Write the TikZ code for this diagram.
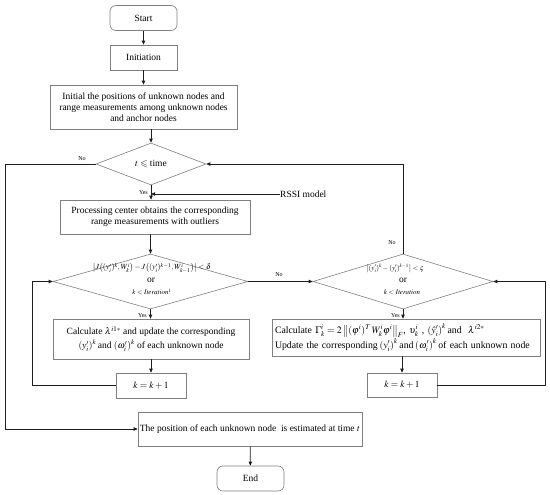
\documentclass[tikz,border=0pt]{standalone}
\usepackage{mathptmx}
\usepackage{amsmath,amssymb}
\usepackage{fontspec}
\setmainfont{Liberation Serif}
\usetikzlibrary{arrows.meta,shapes.geometric,calc}
\definecolor{boxgray}{RGB}{128,128,128}
\definecolor{linec}{RGB}{30,30,30}
\begin{document}
\begin{tikzpicture}[x=1pt,y=-1pt,
  every node/.style={font=\fontsize{9.5}{11}\selectfont},
  box/.style={draw=boxgray, line width=0.6pt, inner sep=0pt, align=center},
  term/.style={box, rounded corners=6pt},
  dia/.style={draw=boxgray, line width=0.6pt, diamond, inner sep=0pt},
  conn/.style={draw=linec, line width=0.8pt, -{Triangle[length=4pt,width=3.4pt]}},
  lab/.style={font=\fontsize{6}{7}\selectfont, inner sep=0pt},
  mtext/.style={align=center, inner sep=0pt}]
\useasboundingbox (0,0) rectangle (550,495);

\node[term, minimum width=67pt, minimum height=25pt] (start) at (143.5,18) {Start};
\node[box, minimum width=67pt, minimum height=25pt] (init) at (143.5,57.5) {Initiation};
\node[box, minimum width=187pt, minimum height=44pt] (initpos) at (143.5,107)
  {Initial the positions of unknown nodes and\\range measurements among unknown nodes\\and anchor nodes};
\node[dia, minimum width=110pt, minimum height=42pt] (d1) at (151,164) {};
\node (d1t) at (d1.center) {$t \leqslant \text{time}$};
\node[box, minimum width=190pt, minimum height=34pt] (proc) at (155,217)
  {Processing center obtains the corresponding\\range measurements with outliers};
\node[dia, minimum width=195pt, minimum height=55pt] (d2) at (150.5,281.5) {};
\node[mtext, font=\fontsize{7.8}{8}\selectfont] (d2f) at (152,268)
  {$\left|J\!\left((y_i')^k,W_k^i\right)-J\!\left((y_i')^{k-1},W_{k-1}^i\right)\right|<\delta$};
\node[mtext] (d2o) at (151,280.5) {or};
\node[mtext, font=\fontsize{7}{8}\selectfont] (d2k) at (152,292) {$k<\mathit{Iteration}^1$};
\node[box, minimum width=196pt, minimum height=40pt, font=\fontsize{9.5}{14}\selectfont] (calc1) at (151,339)
  {Calculate $\lambda^{i1*}$ and update the corresponding\\$\left(y_i'\right)^k$\,and $\left(\omega_i'\right)^k$ of each unknown node};
\node[box, minimum width=70pt, minimum height=25pt] (k1) at (151,385.5) {$k=k+1$};

\node[dia, minimum width=180pt, minimum height=55pt] (d3) at (403,281.5) {};
\node[mtext, font=\fontsize{7}{7.5}\selectfont] (d3f) at (395,268.5)
  {$\left|(y_i')^k-(y_i')^{k-1}\right|<\varsigma$};
\node[mtext] (d3o) at (403,280.5) {or};
\node[mtext, font=\fontsize{7}{8}\selectfont] (d3k) at (402,292) {$k<\mathit{Iteration}$};
\node[box, minimum width=268pt, minimum height=37pt, align=left, text width=262pt, font=\fontsize{9.8}{15}\selectfont] (calc2) at (406,337.5)
  {Calculate $\Gamma_k^i=2\left\|(\varphi^i)^T\,W_k^i\varphi^i\right\|_F$, $\upsilon_k^i$ , $\left(\hat{y}_i'\right)^k$\,and $\ \lambda^{i2*}$\\
   Update the corresponding\,$\left(y_i'\right)^k$\,and\,$\left(\omega_i'\right)^k$\,of each unknown node};
\node[box, minimum width=70pt, minimum height=24pt] (k2) at (402,385) {$k=k+1$};

\node[box, minimum width=224pt, minimum height=34pt] (final) at (250,429)
  {The position of each unknown node\ \ is estimated at time $t$};
\node[term, minimum width=67pt, minimum height=25pt] (end) at (250.5,478.5) {End};

\node[anchor=west, inner sep=0pt] (rssi) at (280,194) {RSSI model};

% connectors
\draw[conn] (start) -- (init);
\draw[conn] (init) -- (initpos);
\draw[conn] (d1.north |- initpos.south) -- (d1.north);
\draw[conn] (d1.south) -- (d1.south |- proc.north);
\coordinate (rj) at (d1.south |- rssi.west);
\draw[conn] (rssi.west) -- (rj);
\node[lab, anchor=east] (yes1) at (148,193) {Yes};
\draw[conn] (proc.south -| d2.north) -- (d2.north);
\draw[conn] (d2.south) -- (d2.south |- calc1.north);
\node[lab, anchor=east] (yes2) at (147,316) {Yes};
\draw[conn] (calc1.south -| k1.north) -- (k1.north);
\coordinate (l1) at (32,385.5);
\draw[conn] (k1.west) -- (l1) |- (d2.west);
\draw[conn] (d2.east) -- (d3.west);
\node[lab] (no2) at (279,275) {No};
\draw[conn] (d3.south) -- (d3.south |- calc2.north);
\node[lab, anchor=east] (yes3) at (400,316) {Yes};
\draw[conn] (k2.north |- calc2.south) -- (k2.north);
\coordinate (r1) at (545,385);
\draw[conn] (k2.east) -- (r1) |- (d3.east);
\coordinate (r2) at (d3.north |- d1.east);
\draw[conn] (d3.north) -- (r2) -- (d1.east);
\node[lab] (no3) at (392,243) {No};
\coordinate (l2) at (5,164);
\draw[conn] (d1.west) -- (l2) |- (final.west);
\node[lab] (no1) at (82,159) {No};
\draw[conn] (final) -- (end);
\end{tikzpicture}
\end{document}
